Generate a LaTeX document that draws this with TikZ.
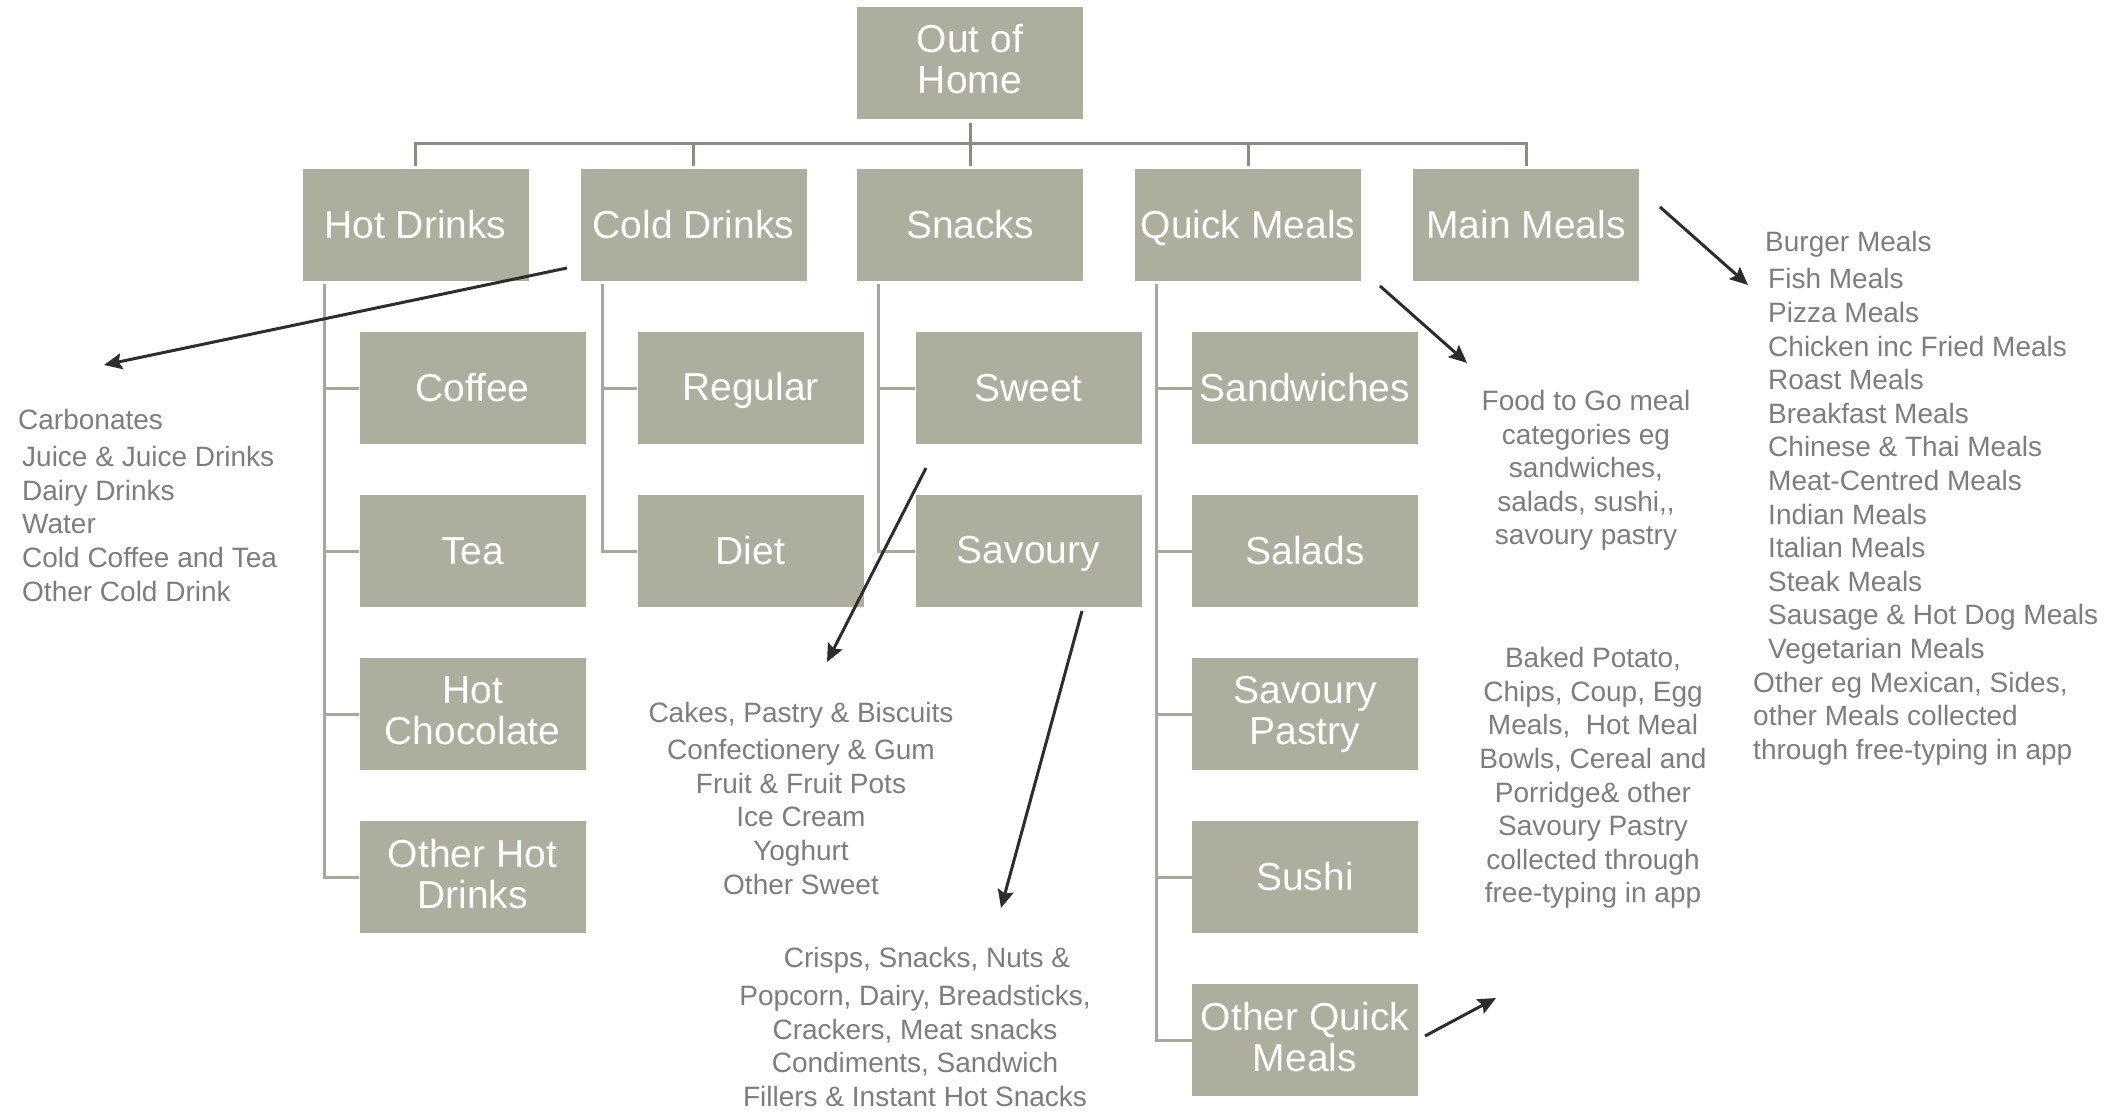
\documentclass[tikz,border=0pt]{standalone}
\usepackage{fontspec}
\setmainfont{Liberation Sans}
\usetikzlibrary{arrows.meta}
\definecolor{boxgrey}{RGB}{174,174,158}
\definecolor{trunkgrey}{RGB}{140,140,128}
\definecolor{branchgrey}{RGB}{168,168,154}
\definecolor{listgrey}{RGB}{125,125,125}
\definecolor{arrowgrey}{RGB}{45,45,45}
% strut that keeps the box labels on a common baseline
\newcommand{\boxstrut}{\rule[-7pt]{0pt}{41pt}}

\begin{document}
\begin{tikzpicture}[x=1pt, y=-1pt,
		box/.style={fill=boxgrey, text=white, minimum width=226pt, minimum height=112pt,
			inner sep=0pt, align=center, font=\fontsize{39}{41}\selectfont,
			execute at begin node=\boxstrut, execute at end node=\boxstrut},
		twoline/.style={box, execute at begin node={\rule[-7pt]{0pt}{47pt}}},
		trunk/.style={draw=trunkgrey, line width=3pt},
		branch/.style={draw=branchgrey, line width=3pt},
		pointer/.style={draw=arrowgrey, line width=3pt, -{Stealth[length=18pt, width=16pt, inset=3pt]}},
		itemlist/.style={text=listgrey, inner sep=0pt, font=\fontsize{28}{33.6}\selectfont}]
		\useasboundingbox (0,0) rectangle (2126,1114);

		% Top of the tree and the five groups
		\node[twoline] (home) at (970,62.5) {Out of\\Home};
		\node[box] (hot) at (415.5,225) {Hot Drinks};
		\node[box] (cold) at (693.5,225) {Cold Drinks};
		\node[box] (snacks) at (970,225) {Snacks};
		\node[box] (quick) at (1248,225) {Quick Meals};
		\node[box] (main) at (1526,225) {Main Meals};

		% Sub-categories
		\node[box] (coffee) at (472.5,388) {Coffee};
		\node[box] (tea) at (472.5,551) {Tea};
		\node[twoline] (hotchoc) at (472.5,714) {Hot\\Chocolate};
		\node[twoline] (othhot) at (472.5,877) {Other Hot\\Drinks};
		\node[box] (regular) at (750.5,388) {Regular};
		\node[box] (diet) at (750.5,551) {Diet};
		\node[box] (sweet) at (1028.5,388) {Sweet};
		\node[box] (savoury) at (1028.5,551) {Savoury};
		\node[box] (sandw) at (1305,388) {Sandwiches};
		\node[box] (salads) at (1305,551) {Salads};
		\node[twoline] (savpastry) at (1305,714) {Savoury\\Pastry};
		\node[box] (sushi) at (1305,877) {Sushi};
		\node[twoline] (othquick) at (1305,1040) {Other Quick\\Meals};

		% Bus from the top box
		\draw[trunk] ([yshift=-4pt]home.south) -- (970,143) coordinate (bus);
		\foreach \p in {hot,cold,snacks,quick,main}
			\draw[trunk] (bus) -| ([yshift=3pt]\p.north);

		% Side branches down to the sub-categories
		\foreach \c in {coffee,tea,hotchoc,othhot}
			\draw[branch] ([xshift=22pt,yshift=-3pt]hot.south west) |- (\c.west);
		\foreach \c in {regular,diet}
			\draw[branch] ([xshift=22pt,yshift=-3pt]cold.south west) |- (\c.west);
		\foreach \c in {sweet,savoury}
			\draw[branch] ([xshift=22pt,yshift=-3pt]snacks.south west) |- (\c.west);
		\foreach \c in {sandw,salads,savpastry,sushi,othquick}
			\draw[branch] ([xshift=22pt,yshift=-3pt]quick.south west) |- (\c.west);

		% Lists of what each group holds
		\node[itemlist, anchor=west, align=left] (coldlist) at (18,505)
			{Carbonates\\[4pt]
			\hspace*{4pt}Juice \& Juice Drinks\\
			\hspace*{4pt}Dairy Drinks\\
			\hspace*{4pt}Water\\
			\hspace*{4pt}Cold Coffee and Tea\\
			\hspace*{4pt}Other Cold Drink};
		\node[itemlist, align=center] (sweetlist) at (801,798)
			{Cakes, Pastry \& Biscuits\\[4pt]
			Confectionery \& Gum\\
			Fruit \& Fruit Pots\\
			Ice Cream\\
			Yoghurt\\
			Other Sweet};
		\node[itemlist, align=center] (savlist) at (915,1027)
			{\hspace*{24pt}Crisps, Snacks, Nuts \&\\[4pt]
			Popcorn, Dairy, Breadsticks,\\
			Crackers, Meat snacks\\
			Condiments, Sandwich\\
			Fillers \& Instant Hot Snacks};
		\node[itemlist, align=center] (togolist) at (1586,470.5)
			{Food to Go meal\\
			categories eg\\
			sandwiches,\\
			salads, sushi,{},\\
			savoury pastry};
		\node[itemlist, align=center] (quicklist) at (1593,778)
			{Baked Potato,\\
			Chips, Coup, Egg\\
			Meals,\ \ Hot Meal\\
			Bowls, Cereal and\\
			Porridge\& other\\
			Savoury Pastry\\
			collected through\\
			free-typing in app};
		\node[itemlist, anchor=west, align=left] (mainlist) at (1753,498)
			{\hspace*{12pt}Burger Meals\\[4pt]
			\hspace*{15pt}Fish Meals\\
			\hspace*{15pt}Pizza Meals\\
			\hspace*{15pt}Chicken inc Fried Meals\\
			\hspace*{15pt}Roast Meals\\
			\hspace*{15pt}Breakfast Meals\\
			\hspace*{15pt}Chinese \& Thai Meals\\
			\hspace*{15pt}Meat-Centred Meals\\
			\hspace*{15pt}Indian Meals\\
			\hspace*{15pt}Italian Meals\\
			\hspace*{15pt}Steak Meals\\
			\hspace*{15pt}Sausage \& Hot Dog Meals\\
			\hspace*{15pt}Vegetarian Meals\\
			Other eg Mexican, Sides,\\
			other Meals collected\\
			through free-typing in app};

		% Pointers from the boxes to their lists
		\coordinate (coldtail) at (567,268);
		\coordinate (coldtip) at (104,365);
		\coordinate (sweettail) at (926,468);
		\coordinate (sweettip) at (827,662);
		\coordinate (savtail) at (1082,611);
		\coordinate (savtip) at (1001,908);
		\coordinate (quicktail) at (1380,286);
		\coordinate (quicktip) at (1467,363);
		\coordinate (maintail) at (1660,207);
		\coordinate (maintip) at (1748,285);
		\coordinate (othtail) at (1425,1036);
		\coordinate (othtip) at (1496,998);
		\draw[pointer] (coldtail) -- (coldtip);
		\draw[pointer] (sweettail) -- (sweettip);
		\draw[pointer] (savtail) -- (savtip);
		\draw[pointer] (quicktail) -- (quicktip);
		\draw[pointer] (maintail) -- (maintip);
		\draw[pointer] (othtail) -- (othtip);
	\end{tikzpicture}
\end{document}
